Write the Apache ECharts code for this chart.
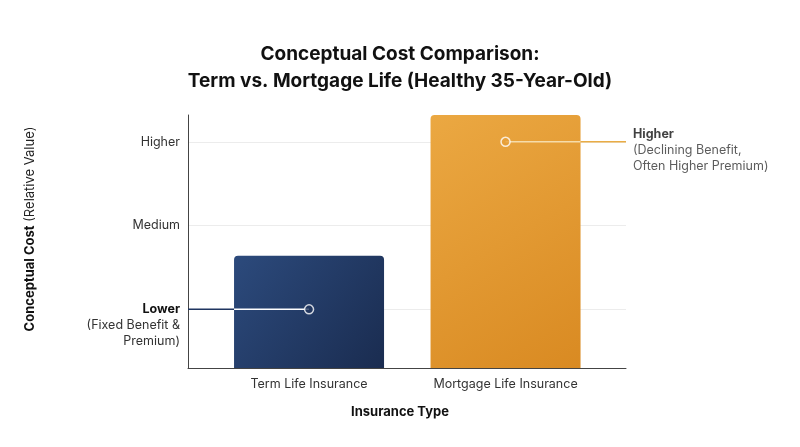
<!DOCTYPE html>
<html>
<head>
<meta charset="utf-8">
<script src="https://cdn.jsdelivr.net/npm/echarts@6/dist/echarts.min.js"></script>
<style>
  html, body { margin: 0; padding: 0; background: #fff; }
  #chart { width: 800px; height: 447px; }
</style>
</head>
<body>
<div id="chart"></div>
<script>
// data
var categories = ['Term Life Insurance', 'Mortgage Life Insurance']
var costValues = [1.64, 3.32]
var tickValues = [1, 2, 3]
var tickLabels = ['Lower', 'Medium', 'Higher']
var lowerNote = ['(Fixed Benefit &', 'Premium)']
var higherNote = ['(Declining Benefit,', 'Often Higher Premium)']
// annotation points: [category index, level]
var lowerPoint = [0, 1]
var higherPoint = [1, 3]

var FONT = 'Inter, "Noto Sans", sans-serif'
var X_MIN = -0.616
var X_MAX = 1.613
var Y_MIN = 0.3
var Y_MAX = 3.32
var GRID = { left: 188, right: 174, top: 115, bottom: 79 }
var BAR_WIDTH = 150

// half of bar width in x data units (used to split the connector lines)
var gridW = 800 - GRID.left - GRID.right
var barHalf = (BAR_WIDTH / 2) / (gridW / (X_MAX - X_MIN))

var barColors = [
  ['#2c4a7c', '#1a2c50'],
  ['#eba842', '#d98a22']
]

var chart = echarts.init(document.getElementById('chart'))

function lineSeries (from, to, color, z) {
  return {
    type: 'line',
    data: [from, to],
    symbol: 'none',
    silent: true,
    z: z,
    lineStyle: { color: color, width: 1.5 },
    animation: false
  }
}

var option = {
  animation: false,
  title: {
    text: 'Conceptual Cost Comparison:\nTerm vs. Mortgage Life (Healthy 35-Year-Old)',
    left: 'center',
    top: 36,
    textStyle: {
      fontFamily: FONT,
      fontSize: 19,
      fontWeight: 'bold',
      color: '#111',
      lineHeight: 27
    }
  },
  grid: GRID,
  xAxis: {
    type: 'value',
    min: X_MIN,
    max: X_MAX,
    name: 'Insurance Type',
    nameLocation: 'middle',
    nameGap: 38,
    nameTextStyle: {
      fontFamily: FONT, fontSize: 13, fontWeight: 'bold', color: '#111',
      padding: [0, 14, 0, 0]
    },
    axisLine: { show: true, onZero: false, lineStyle: { color: '#444', width: 1 } },
    axisTick: { show: false, customValues: [0, 1] },
    splitLine: { show: false },
    axisLabel: {
      customValues: [0, 1],
      margin: 10,
      fontFamily: FONT, fontSize: 12.5, color: '#333',
      formatter: function (v) { return categories[Math.round(v)] }
    }
  },
  yAxis: {
    type: 'value',
    min: Y_MIN,
    max: Y_MAX,
    name: '{b|Conceptual Cost} {n|(Relative Value)}',
    nameLocation: 'middle',
    nameRotate: 90,
    nameGap: 151,
    nameTextStyle: {
      fontSize: 13,
      padding: [0, 0, 0, 25],
      rich: {
        b: { fontFamily: FONT, fontSize: 13, fontWeight: 'bold', color: '#111' },
        n: { fontFamily: FONT, fontSize: 13, color: '#222' }
      }
    },
    axisLine: { show: true, onZero: false, lineStyle: { color: '#444', width: 1 } },
    axisTick: { show: false, customValues: tickValues },
    splitLine: { show: true, lineStyle: { color: '#ececec', width: 1 } },
    axisLabel: {
      customValues: tickValues,
      margin: 8,
      align: 'right',
      formatter: function (v) {
        var i = tickValues.indexOf(Math.round(v))
        if (i === 0) {
          return '{n| }\n{n| }\n{b|' + tickLabels[0] + '}\n{n|' + lowerNote.join('}\n{n|') + '}'
        }
        return '{m|' + tickLabels[i] + '}'
      },
      rich: {
        b: { fontFamily: FONT, fontSize: 12.5, fontWeight: 'bold', color: '#111', lineHeight: 16, align: 'right' },
        n: { fontFamily: FONT, fontSize: 12.5, color: '#333', lineHeight: 16, align: 'right' },
        m: { fontFamily: FONT, fontSize: 12.5, color: '#333', lineHeight: 16, align: 'right' }
      }
    }
  },
  series: [
    {
      type: 'bar',
      barWidth: BAR_WIDTH,
      z: 2,
      data: costValues.map(function (v, i) {
        return {
          value: [i, v],
          itemStyle: {
            borderRadius: [4, 4, 0, 0],
            color: new echarts.graphic.LinearGradient(0, 0, 1, 1, [
              { offset: 0, color: barColors[i][0] },
              { offset: 1, color: barColors[i][1] }
            ])
          }
        }
      })
    },
    // lower connector: navy outside bar, white inside
    lineSeries([X_MIN, lowerPoint[1]], [lowerPoint[0] - barHalf, lowerPoint[1]], '#1f3560', 3),
    lineSeries([lowerPoint[0] - barHalf, lowerPoint[1]], lowerPoint, '#ffffff', 3),
    // higher connector: pale inside bar, gold outside
    lineSeries(higherPoint, [higherPoint[0] + barHalf, higherPoint[1]], '#f6dcaa', 3),
    lineSeries([higherPoint[0] + barHalf, higherPoint[1]], [X_MAX, higherPoint[1]], '#e9ac45', 3),
    {
      type: 'scatter',
      z: 4,
      silent: true,
      symbol: 'circle',
      symbolSize: 9,
      data: [
        { value: lowerPoint, itemStyle: { color: '#22375f', borderColor: '#fff', borderWidth: 1.5 } },
        { value: higherPoint, itemStyle: { color: '#e7a03a', borderColor: '#fff', borderWidth: 1.5 } }
      ]
    },
    {
      type: 'scatter',
      z: 4,
      silent: true,
      symbolSize: 0,
      data: [[X_MAX, higherPoint[1]]],
      label: {
        show: true,
        position: 'right',
        distance: 7,
        offset: [0, 8],
        formatter: '{b|' + tickLabels[2] + '}\n{n|' + higherNote.join('}\n{n|') + '}',
        rich: {
          b: { fontFamily: FONT, fontSize: 12.5, fontWeight: 'bold', color: '#111', lineHeight: 16 },
          n: { fontFamily: FONT, fontSize: 12.5, color: '#333', lineHeight: 16 }
        }
      }
    }
  ]
}

chart.setOption(option)
</script>
</body>
</html>
